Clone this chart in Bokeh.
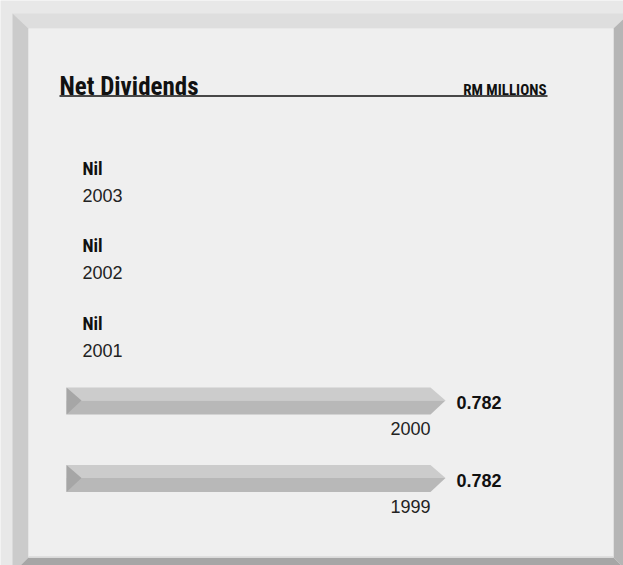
from bokeh.plotting import figure
from bokeh.models import Range1d, ColumnDataSource
from bokeh.core.properties import value
from bokeh.embed import file_html
from bokeh.resources import INLINE

# ---- data ----
years = ["2003", "2002", "2001", "2000", "1999"]
dividends = [None, None, None, 0.782, 0.782]   # RM millions, None = Nil
title = "Net Dividends"
unit = "RM MILLIONS"

W, H = 623, 565
# pixel anchors for the scales
X0_PX, XV_PX = 66.0, 445.0          # where 0 and the value 0.782 sit
scale = (XV_PX - X0_PX) / 0.782      # px per RM million
ROW0_PX, ROW_PX = 167.5, 77.5        # row anchors

def px(x):
    return (x - X0_PX) / scale

def py(y):
    return (y - ROW0_PX) / ROW_PX

p = figure(width=W, height=H, output_backend="svg", toolbar_location=None,
           x_range=Range1d(px(0), px(W)), y_range=Range1d(py(H), py(0)),
           min_border=0, background_fill_color="#e8e8e8",
           border_fill_color="#e8e8e8")
p.axis.visible = False
p.grid.visible = False
p.outline_line_color = None

# ---- bevelled frame (decoration) ----
oL, oT, oR, oB = 12, 13, 629, 573
iL, iT, iR, iB = 28, 28, 613, 557
bands = [
    ([oL, oR, iR, iL], [oT, oT, iT, iT], "#dedede"),
    ([oL, iL, iL, oL], [oT, iT, iB, oB], "#cbcbcb"),
    ([oL, iL, iR, oR], [oB, iB, iB, oB], "#a6a6a6"),
    ([oR, oR, iR, iR], [oT, oB, iB, iT], "#b5b5b5"),
]
p.patches(xs=[[px(v) for v in b[0]] for b in bands],
          ys=[[py(v) for v in b[1]] for b in bands],
          fill_color=[b[2] for b in bands], line_color=None)
p.quad(left=px(iL), right=px(iR), top=py(iT), bottom=py(iB),
       fill_color="#efefef", line_color=None)
p.segment(x0=px(iL), x1=px(iR), y0=py(iB - 0.5), y1=py(iB - 0.5),
          line_color="#dadada", line_width=1.5)

# ---- title ----
narrow = value("Roboto Condensed")
p.text(x=[px(59)], y=[py(86)], text=[title], text_font=narrow,
       text_font_style="bold", text_font_size="25px", text_color="#111111",
       text_align="left", text_baseline="middle")
p.text(x=[px(546)], y=[py(89)], text=[unit], text_font=narrow,
       text_font_style="bold", text_font_size="15px", text_color="#111111",
       text_align="right", text_baseline="middle")
p.segment(x0=px(59), x1=px(547), y0=py(95.5), y1=py(95.5),
          line_color="#111111", line_width=1.6)

# ---- bars ----
tip = 15 / scale
tri = 15 / scale
half_up = 13 / ROW_PX
half_dn = 14 / ROW_PX
top_xs, top_ys, bot_xs, bot_ys, tri_xs, tri_ys = [], [], [], [], [], []
lab_x, lab_y, lab_t = [], [], []
yr_x, yr_y, yr_t, yr_align = [], [], [], []
nil_x, nil_y = [], []
for i, (yr, v) in enumerate(zip(years, dividends)):
    if v is None:
        nil_x.append(px(82)); nil_y.append(i)
        yr_x.append(px(82)); yr_y.append(i + 27 / ROW_PX); yr_t.append(yr)
        yr_align.append("left")
        continue
    t, m, b = i - half_up, i, i + half_dn
    body = v - tip
    top_xs.append([0, body, v, 0]); top_ys.append([t, t, m, m])
    bot_xs.append([0, v, body, 0]); bot_ys.append([m, m, b, b])
    tri_xs.append([0, tri, 0]); tri_ys.append([t, m, b])
    lab_x.append(v + 11 / scale); lab_y.append(i + 2 / ROW_PX); lab_t.append(f"{v:.3f}")
    yr_x.append(body); yr_y.append(i + 28 / ROW_PX); yr_t.append(yr)
    yr_align.append("right")

p.patches(xs=top_xs, ys=top_ys, fill_color="#cccccc", line_color=None)
p.patches(xs=bot_xs, ys=bot_ys, fill_color="#b8b8b8", line_color=None)
p.patches(xs=tri_xs, ys=tri_ys, fill_color="#a6a6a6", line_color=None)

body_font = value("Liberation Sans")
p.text(x=lab_x, y=lab_y, text=lab_t, text_font=body_font, text_font_style="bold",
       text_font_size="18px", text_color="#111111", text_align="left",
       text_baseline="middle")
p.text(x=nil_x, y=nil_y, text=["Nil"] * len(nil_x), text_font=narrow,
       text_font_style="bold", text_font_size="18px", text_color="#111111",
       text_align="left", text_baseline="middle")
src = ColumnDataSource(dict(x=yr_x, y=yr_y, t=yr_t, a=yr_align))
p.text(x="x", y="y", text="t", text_align="a", source=src, text_font=body_font,
       text_font_size="18px", text_color="#222222", text_baseline="middle")

open("out.html", "w").write(file_html(p, INLINE))
